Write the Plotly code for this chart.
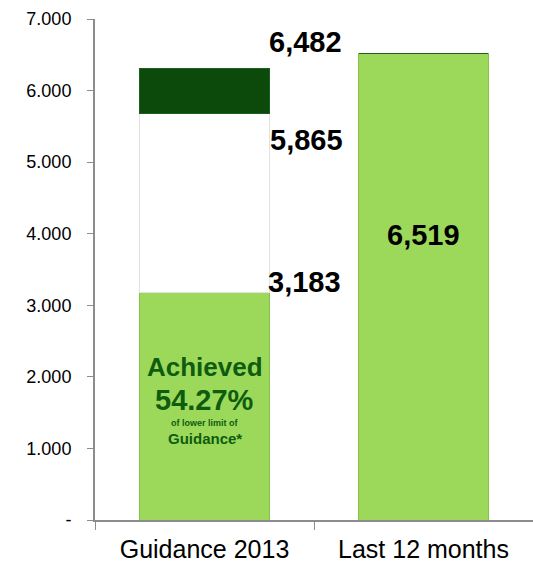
import plotly.graph_objects as go

# data
categories = ['Guidance 2013', 'Last 12 months']
achieved = [3183, 6519]
gap = [2502, 0]
upper_band = [617, 0]
label_lower = '5,865'
label_upper = '6,482'
tick_vals = [0, 1000, 2000, 3000, 4000, 5000, 6000, 7000]
tick_text = ['-', '1.000', '2.000', '3.000', '4.000', '5.000', '6.000', '7.000']

light_green = '#9CD95B'
dark_green = '#0B4A0B'
text_green = '#0E5C0E'

fig = go.Figure()
fig.add_bar(x=categories, y=achieved, marker_color=light_green,
            marker_line=dict(color='#86C04A', width=1), hoverinfo='skip')
fig.add_bar(x=categories, y=gap, marker_color='white',
            marker_line=dict(color='#E2E2E2', width=1), hoverinfo='skip')
fig.add_bar(x=categories, y=upper_band, marker_color=dark_green,
            marker_line=dict(color='#1E5E1E', width=1), hoverinfo='skip')

top1 = achieved[0] + gap[0] + upper_band[0]
base_band = achieved[0] + gap[0]

big = dict(family='Liberation Sans, Arial', size=29, color='black')
# value labels next to the guidance bar
fig.add_annotation(x=categories[0], y=top1, text='<b>' + label_upper + '</b>',
                   showarrow=False, xshift=101, yshift=27, font=big)
fig.add_annotation(x=categories[0], y=base_band, text='<b>' + label_lower + '</b>',
                   showarrow=False, xshift=102, yshift=-27, font=big)
fig.add_annotation(x=categories[0], y=achieved[0], text='<b>{:,}</b>'.format(achieved[0]),
                   showarrow=False, xshift=100, yshift=10, font=big)
fig.add_annotation(x=categories[1], y=achieved[1] / 2, text='<b>{:,}</b>'.format(achieved[1]),
                   showarrow=False, yshift=52, font=big)

# text inside first bar
pct = achieved[0] / 5865 * 100
inner = [('<b>Achieved</b>', 26, 2138), ('<b>{:.2f}%</b>'.format(pct), 29, 1677),
         ('<b>of lower limit of</b>', 9, 1355), ('<b>Guidance*</b>', 15, 1132)]
for txt, sz, yy in inner:
    fig.add_annotation(x=categories[0], y=yy, text=txt, showarrow=False,
                       font=dict(family='Liberation Sans, Arial', size=sz, color=text_green))

fig.update_layout(barmode='stack', bargap=0.41, showlegend=False,
                  width=533, height=564, plot_bgcolor='white', paper_bgcolor='white',
                  margin=dict(l=95, r=0, t=19, b=44),
                  font=dict(family='Liberation Sans, Arial', color='black'))
fig.update_yaxes(range=[0, 7000], tickvals=tick_vals, ticktext=tick_text,
                 showgrid=False, zeroline=False, showline=True, linecolor='#8C8C8C',
                 linewidth=2, ticks='outside', ticklen=6, tickcolor='#8C8C8C',
                 tickfont=dict(size=18), automargin=False, ticklabelstandoff=12)
fig.update_xaxes(showline=True, linecolor='#8C8C8C', linewidth=2, ticks='outside',
                 tickson='boundaries', ticklen=8, tickcolor='#8C8C8C',
                 tickfont=dict(size=25), showgrid=False, automargin=False,
                 ticklabelstandoff=6)

# page margin off so the figure sits at the window corner
fig.write_html('out.html', config={'displayModeBar': False},
               post_script="document.body.style.margin='0';")
